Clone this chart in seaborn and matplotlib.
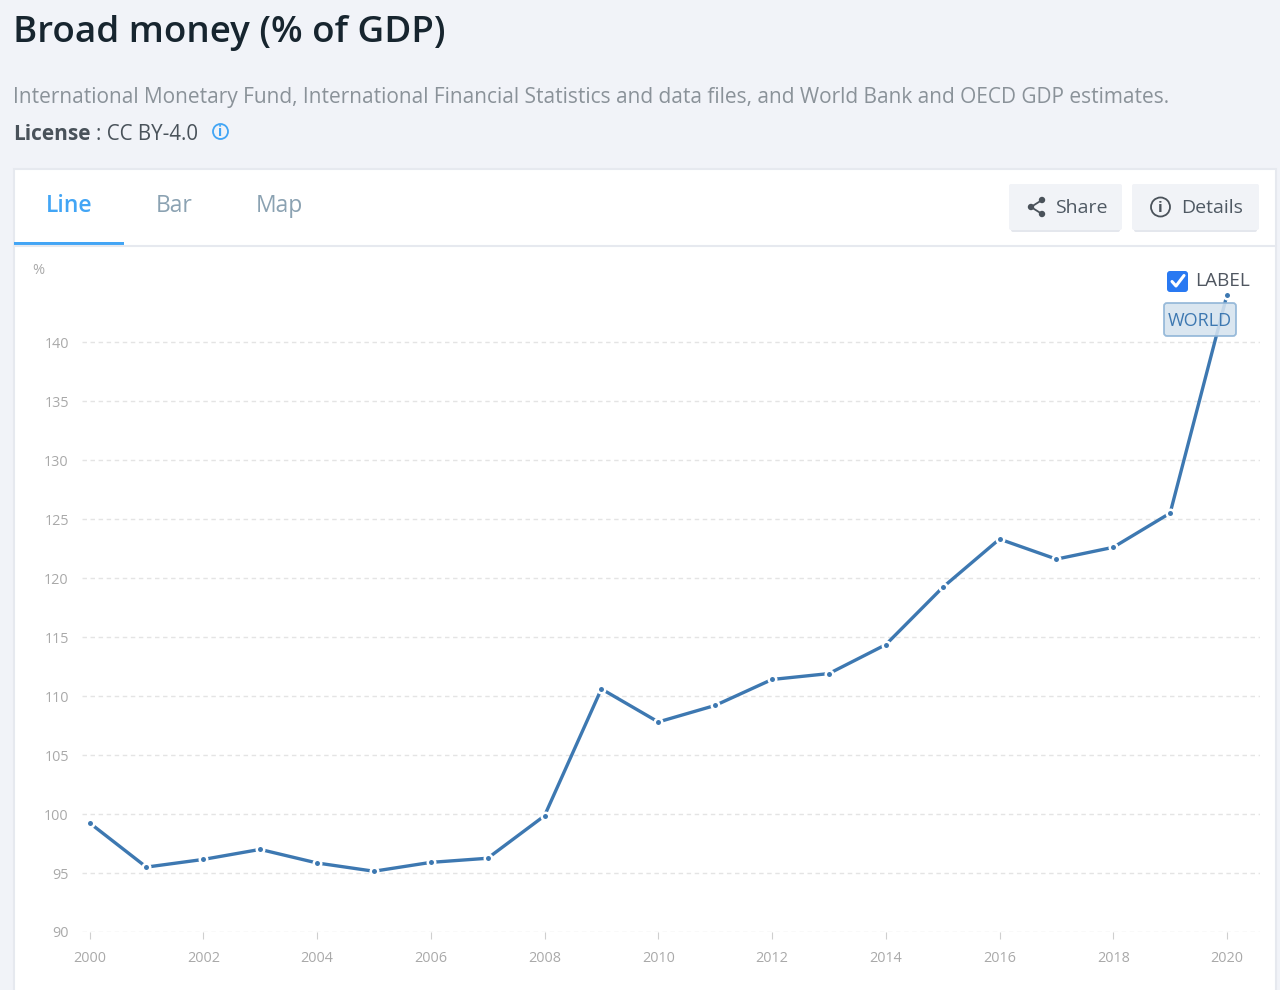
import matplotlib
matplotlib.use("Agg")
import matplotlib.pyplot as plt
from matplotlib.patches import FancyBboxPatch, Rectangle, Circle
import pandas as pd
import seaborn as sns

years = [2000, 2001, 2002, 2003, 2004, 2005, 2006, 2007, 2008, 2009, 2010,
         2011, 2012, 2013, 2014, 2015, 2016, 2017, 2018, 2019, 2020]
broad_money = [99.25, 95.5, 96.15, 97.0, 95.85, 95.15, 95.9, 96.25, 99.85, 110.6, 107.8,
               109.2, 111.4, 111.9, 114.35, 119.2, 123.3, 121.6, 122.6, 125.5, 144.0]
x_ticks = [2000, 2002, 2004, 2006, 2008, 2010, 2012, 2014, 2016, 2018, 2020]
y_ticks = [90, 95, 100, 105, 110, 115, 120, 125, 130, 135, 140]

PAGE_BG = "#f1f3f8"
LINE_COLOR = "#3d78b1"
BLUE = "#42a5f5"

sns.set_theme(style="white")
plt.rcParams["font.family"] = ["Open Sans", "DejaVu Sans"]

fig = plt.figure(figsize=(12.8, 9.9), dpi=100, facecolor=PAGE_BG)

# page furniture is laid out in pixels
ui = fig.add_axes([0, 0, 1, 1], zorder=0)
ui.set_xlim(0, 1280)
ui.set_ylim(990, 0)
ui.axis("off")

top = fig.add_axes([0, 0, 1, 1], zorder=3)
top.set_xlim(0, 1280)
top.set_ylim(990, 0)
top.axis("off")


def button(x0, x1, label, text_x):
    ui.add_patch(FancyBboxPatch((x0 + 2, 188), x1 - x0 - 4, 44, boxstyle="round,pad=0,rounding_size=2",
                                fc="#e4e7ed", ec="none"))
    ui.add_patch(FancyBboxPatch((x0 + 2, 186), x1 - x0 - 4, 42, boxstyle="round,pad=2,rounding_size=2",
                                fc="#f1f3f7", ec="none"))
    ui.text(text_x, 208, label, fontsize=14, color="#4f5963", va="center", ha="left")


ui.text(13, 33, "Broad money (% of GDP)", fontsize=26.5, fontweight=600, color="#17252f",
        va="center", ha="left")
ui.text(13, 97, "International Monetary Fund, International Financial Statistics and data files, "
                "and World Bank and OECD GDP estimates.",
        fontsize=15, color="#8a9299", va="center", ha="left")
ui.text(13, 134.5, "License", fontsize=15, fontweight="bold", color="#49525a", va="center", ha="left")
ui.text(96, 134.5, ": CC BY-4.0", fontsize=14.8, color="#49525a", va="center", ha="left")
ui.add_patch(Circle((220.5, 131.5), 7.5, fc="none", ec=BLUE, lw=1.3))
ui.text(220.5, 132, "i", fontsize=10, fontweight="bold", color=BLUE, va="center", ha="center")

# white panel and tabs
ui.add_patch(Rectangle((14, 169), 1262, 840, fc="white", ec="#e6e9ef", lw=1.5))
ui.plot([14, 1276], [245.5, 245.5], color="#e6e9ef", lw=1.5)
ui.add_patch(Rectangle((14, 242), 110, 3, fc=BLUE, ec="none"))
ui.text(69.5, 206.5, "Line", fontsize=16.5, fontweight=600, color=BLUE, va="center", ha="center")
ui.text(174, 206.5, "Bar", fontsize=16.5, color="#8ba2b2", va="center", ha="center")
ui.text(279.5, 206.5, "Map", fontsize=16.5, color="#8ba2b2", va="center", ha="center")

button(1009, 1122, "Share", 1055)
button(1132, 1259, "Details", 1181.5)

# share icon
ui.plot([1042, 1031, 1042], [200, 207, 214], color="#4a525a", lw=1.3)
for cx, cy in [(1042, 200), (1031, 207), (1042, 214)]:
    ui.add_patch(Circle((cx, cy), 3.2, fc="#4a525a", ec="none"))
# details icon
ui.add_patch(Circle((1160.5, 207), 9.5, fc="none", ec="#4a525a", lw=1.3))
ui.text(1160.5, 207.5, "i", fontsize=11, fontweight="bold", color="#4a525a", va="center", ha="center")

# chart proper
ax = fig.add_axes([82 / 1280, 58 / 990, 1178 / 1280, 670 / 990], zorder=1)
ax.patch.set_visible(False)
df = pd.DataFrame({"year": years, "value": broad_money})
sns.lineplot(data=df, x="year", y="value", ax=ax, color=LINE_COLOR, linewidth=2.4,
             marker="o", markersize=5.4, markeredgecolor="white", markeredgewidth=1.8,
             clip_on=False, zorder=3)
ax.set_xlim(1999.868, 2020.58)
ax.set_ylim(90, 146.78)
ax.set_xlabel("")
ax.set_ylabel("")
ax.set_xticks(x_ticks)
ax.set_yticks(y_ticks)
sns.despine(ax=ax, left=True, bottom=True, right=True, top=True)
ax.grid(axis="y", color="#e4e4e4", linestyle=(0, (3.2, 2.6)), linewidth=1)
ax.set_axisbelow(True)
ax.tick_params(axis="x", length=5, width=0.8, color="#cfcfcf", labelcolor="#a9a9a9", labelsize=10.4, pad=8.5,
               bottom=True)
ax.tick_params(axis="y", length=0, labelcolor="#a9a9a9", labelsize=10.4, pad=9.5)
ui.text(38.5, 271, "%", fontsize=10.5, color="#a9a9a9", va="center", ha="center")

# LABEL checkbox and the WORLD tag sit over the line
top.add_patch(FancyBboxPatch((1169, 273), 17, 17, boxstyle="round,pad=2,rounding_size=3",
                             fc="#2979f2", ec="none"))
top.plot([1172, 1176, 1184], [281.5, 286, 275.5], color="white", lw=2.2, solid_capstyle="round")
top.text(1195.5, 281.5, "LABEL", fontsize=13.7, color="#4f5660", va="center", ha="left")
top.add_patch(FancyBboxPatch((1165, 304), 70, 31, boxstyle="round,pad=1,rounding_size=3",
                             fc="#d5e3ef", ec="#8db3d6", lw=1.3, alpha=0.88))
top.text(1199.5, 321, "WORLD", fontsize=13, color=LINE_COLOR, va="center", ha="center")

fig.savefig("out.png", dpi=100, facecolor=PAGE_BG)
